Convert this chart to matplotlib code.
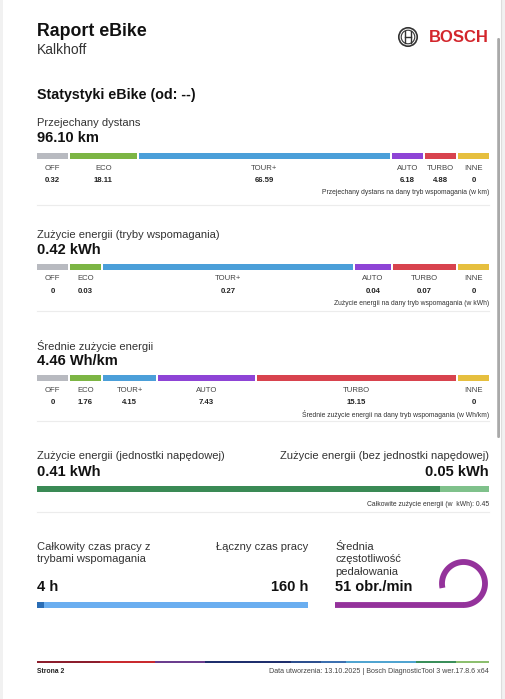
import numpy as np
import matplotlib.pyplot as plt
from matplotlib.patches import Circle, Rectangle, FancyBboxPatch

plt.rcParams['font.family'] = ['Liberation Sans', 'DejaVu Sans']

# ---- data ----
modes = ['OFF', 'ECO', 'TOUR+', 'AUTO', 'TURBO', 'INNE']
mode_colors = ['#b8bac0', '#7cb544', '#4b9fd9', '#8e44d6', '#d8434e', '#e6bf3e']

distance_total = '96.10 km'
distance = [0.32, 18.11, 66.59, 6.18, 4.88, 0]
distance_lbl = ['0.32', '18.11', '66.59', '6.18', '4.88', '0']

energy_total = '0.42 kWh'
energy = [0, 0.03, 0.27, 0.04, 0.07, 0]
energy_lbl = ['0', '0.03', '0.27', '0.04', '0.07', '0']

avg_total = '4.46 Wh/km'
avg_energy = [0, 1.76, 4.15, 7.43, 15.15, 0]
avg_lbl = ['0', '1.76', '4.15', '7.43', '15.15', '0']

drive_unit = 0.41
no_drive_unit = 0.05
energy_sum = 0.45

assist_hours = 4
total_hours = 160
cadence = 51

footer_colors = ['#8c1d2c', '#c92a2f', '#6b3d8e', '#1f2f6d', '#2d4f8e',
                 '#3c70b0', '#50a4d0', '#3a8f5a', '#8cbf6e']
footer_weights = [63, 55, 50, 85, 30, 25, 70, 40, 33]

DARK = '#222222'
X0, X1 = 37, 489

fig = plt.figure(figsize=(5.05, 6.99), dpi=100)
ax = fig.add_axes([0, 0, 1, 1])
ax.set_xlim(0, 505)
ax.set_ylim(699, 0)
ax.axis('off')

# page frame and scrollbar
ax.add_patch(Rectangle((0, 0), 3, 699, color='#f1f1f1', lw=0))
ax.add_patch(Rectangle((501, 0), 4, 699, color='#f1f1f1', lw=0))
ax.plot([501, 501], [0, 699], color='#dddddd', lw=0.8)
ax.add_patch(FancyBboxPatch((497.2, 38), 2.8, 400, boxstyle='round,pad=0,rounding_size=1.3',
                            color='#a9a9a9', lw=0))


def seg_widths(values, total, min_w):
    vals = np.array(values, dtype=float)
    fixed = np.zeros(len(vals), bool)
    while True:
        free = total - min_w * fixed.sum()
        s = vals[~fixed].sum()
        w = np.where(fixed, min_w, vals / s * free if s > 0 else 0)
        new = fixed | (w < min_w)
        if (new == fixed).all():
            return w
        fixed = new


def mode_bar(y, values, labels, note):
    w = seg_widths(values, X1 - X0 + 2, 33)
    lefts = X0 + np.concatenate([[0], np.cumsum(w)[:-1]])
    ax.barh(y, w - 2, left=lefts, height=6, color=mode_colors, align='center')
    for l, ww, m, lab in zip(lefts, w, modes, labels):
        cx = l + (ww - 2) / 2
        ax.text(cx, y + 12, m, fontsize=5.6, color='#444444', ha='center', va='center')
        ax.text(cx, y + 24.5, lab, fontsize=5.6, color=DARK, ha='center', va='center',
                fontweight='bold')
    ax.text(X1, y + 36.5, note, fontsize=4.9, color='#333333', ha='right', va='center')


def section(y, title, total):
    ax.text(X0, y, title, fontsize=8, color='#333333', va='center')
    ax.text(X0, y + 15, total, fontsize=10.5, color='#111111', va='center', fontweight='bold')


def sep(y):
    ax.plot([X0, X1], [y, y], color='#ececec', lw=0.8)


# header
ax.text(X0, 31, 'Raport eBike', fontsize=12.8, fontweight='bold', color='#111111', va='center')
ax.text(X0, 50, 'Kalkhoff', fontsize=10, color='#333333', va='center')
ax.add_patch(Circle((408, 37), 9.2, fill=False, ec='#333333', lw=1.2))
ax.add_patch(Circle((408, 37), 6.8, fill=False, ec='#333333', lw=0.8))
ax.plot([405, 405], [31, 43], color='#333333', lw=1.0)
ax.plot([411, 411], [31, 43], color='#333333', lw=1.0)
ax.plot([405, 411], [37, 37], color='#333333', lw=1.0)
ax.text(489, 37.5, 'BOSCH', fontsize=12, fontweight='bold', color='#d3262c',
        ha='right', va='center')

ax.text(X0, 95, 'Statystyki eBike (od: --)', fontsize=10.3, fontweight='bold',
        color='#111111', va='center')

section(123, 'Przejechany dystans', distance_total)
mode_bar(156, distance, distance_lbl, 'Przejechany dystans na dany tryb wspomagania (w km)')
sep(205)

section(235, 'Zużycie energii (tryby wspomagania)', energy_total)
mode_bar(267, energy, energy_lbl, 'Zużycie energii na dany tryb wspomagania (w kWh)')
sep(311)

section(346, 'Średnie zużycie energii', avg_total)
mode_bar(378, avg_energy, avg_lbl, 'Średnie zużycie energii na dany tryb wspomagania (w Wh/km)')
sep(421)

# drive unit energy
ax.text(X0, 456, 'Zużycie energii (jednostki napędowej)', fontsize=8, color='#333333', va='center')
ax.text(X1, 456, 'Zużycie energii (bez jednostki napędowej)', fontsize=8, color='#333333',
        va='center', ha='right')
ax.text(X0, 471.5, f'{drive_unit:.2f} kWh', fontsize=10.5, fontweight='bold', color='#111111',
        va='center')
ax.text(X1, 471.5, f'{no_drive_unit:.2f} kWh', fontsize=10.5, fontweight='bold',
        color='#111111', va='center', ha='right')
span = X1 - X0
tot = drive_unit + no_drive_unit
ax.barh(489, [drive_unit / tot * span, no_drive_unit / tot * span],
        left=[X0, X0 + drive_unit / tot * span], height=6, color=['#3a8a55', '#7fc18b'])
ax.text(X1, 504, f'Całkowite zużycie energii (w  kWh): {energy_sum:.2f}', fontsize=4.9,
        color='#333333', ha='right', va='center')
sep(512)

# operating time
TX1 = 308
ax.text(X0, 547, 'Całkowity czas pracy z', fontsize=8, color='#333333', va='center')
ax.text(X0, 559.5, 'trybami wspomagania', fontsize=8, color='#333333', va='center')
ax.text(TX1, 547, 'Łączny czas pracy', fontsize=8, color='#333333', va='center', ha='right')
ax.text(X0, 587, f'{assist_hours} h', fontsize=10.5, fontweight='bold', color='#111111',
        va='center')
ax.text(TX1, 587, f'{total_hours} h', fontsize=10.5, fontweight='bold', color='#111111',
        va='center', ha='right')
tspan = TX1 - X0
ax.barh(605, tspan, left=X0, height=6, color='#6aaef0')
ax.barh(605, assist_hours / total_hours * tspan, left=X0, height=6, color='#2a6db5')

# cadence
CX = 335
for i, t in enumerate(['Średnia', 'częstotliwość', 'pedałowania']):
    ax.text(CX, 547 + i * 12.5, t, fontsize=8, color='#333333', va='center')
ax.text(CX, 587, f'{cadence} obr./min', fontsize=10.5, fontweight='bold', color='#111111',
        va='center')
purple = '#94329b'
gc, gr = (463.5, 583.5), 21.5
ax.plot([CX, gc[0]], [gc[1] + gr, gc[1] + gr], color=purple, lw=4.2, solid_capstyle='butt')
th = np.radians(np.linspace(-90, 192, 120))
ax.plot(gc[0] + gr * np.cos(th), gc[1] - gr * np.sin(th), color=purple, lw=4.2,
        solid_capstyle='butt')

# footer
fw = np.array(footer_weights, float)
fw = fw / fw.sum() * (X1 - X0)
fl = X0 + np.concatenate([[0], np.cumsum(fw)[:-1]])
ax.barh(662, fw, left=fl, height=2.8, color=footer_colors)
ax.text(X0, 671.5, 'Strona 2', fontsize=4.9, fontweight='bold', color='#222222', va='center')
ax.text(X1, 671.5, 'Data utworzenia: 13.10.2025 | Bosch DiagnosticTool 3 wer.17.8.6 x64',
        fontsize=5.1, color='#444444', va='center', ha='right')

fig.savefig('out.png', dpi=100)
